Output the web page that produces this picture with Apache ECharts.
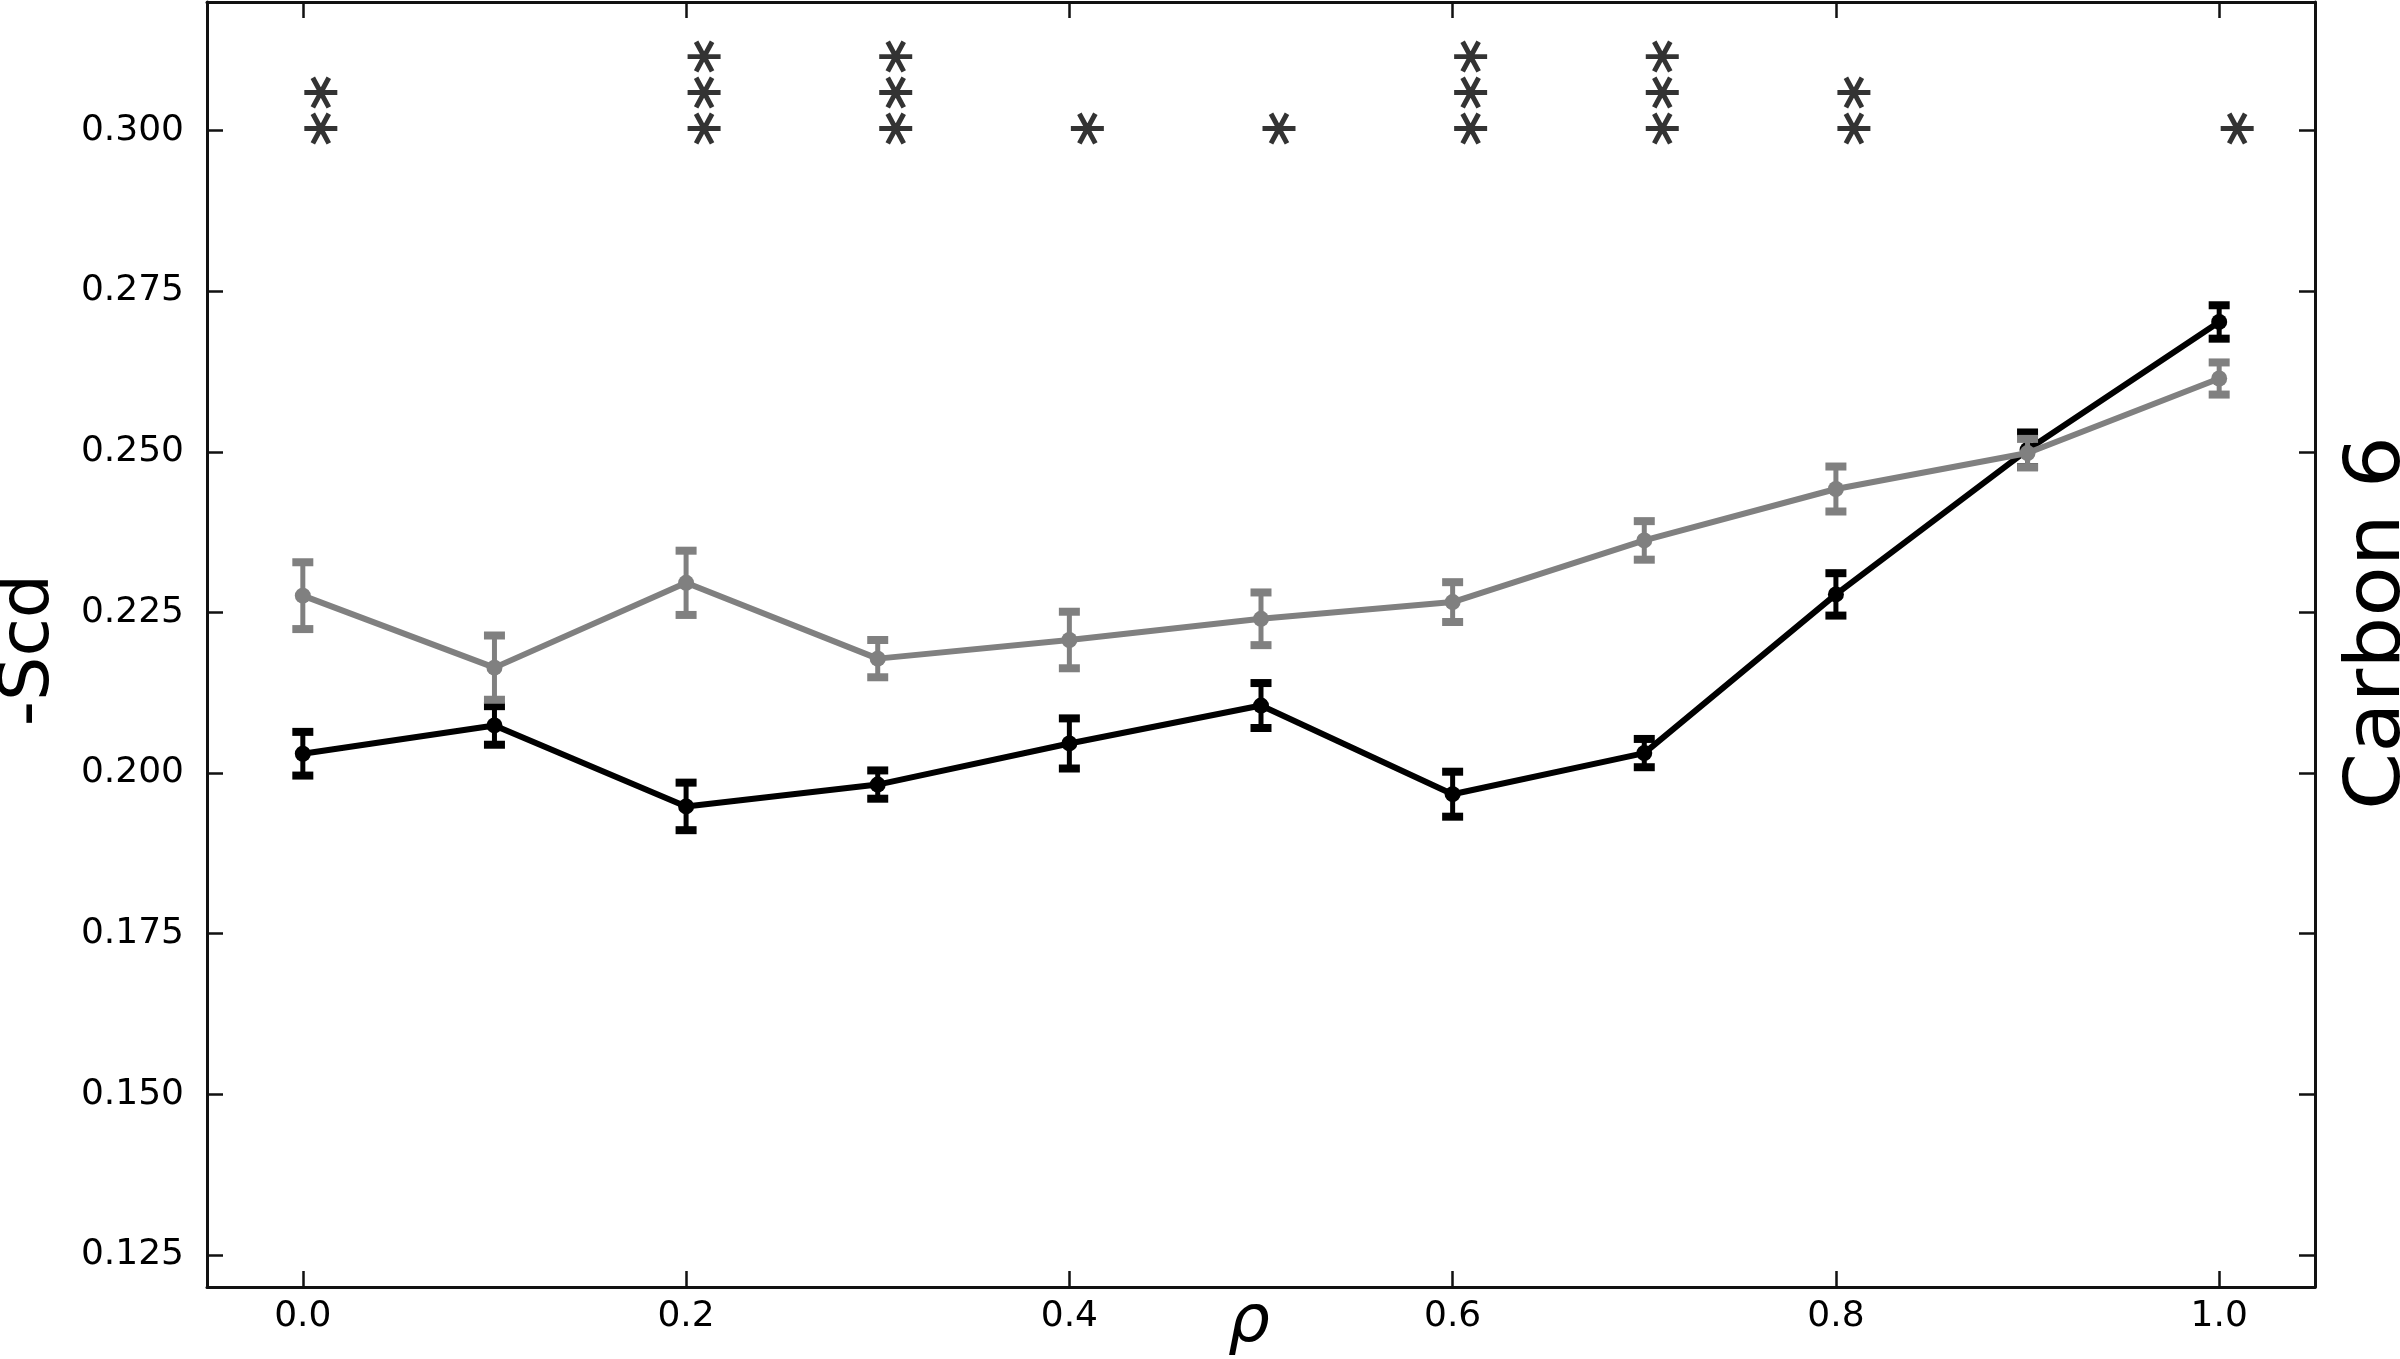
<!DOCTYPE html>
<html>
<head>
<meta charset="utf-8">
<script src="https://cdn.jsdelivr.net/npm/echarts@6/dist/echarts.min.js"></script>
<style>
html,body{margin:0;padding:0;background:#fff;}
#chart{width:2400px;height:1359px;}
</style>
</head>
<body>
<div id="chart"></div>
<script>
// ---- data ----
const rho = [0.0, 0.1, 0.2, 0.3, 0.4, 0.5, 0.6, 0.7, 0.8, 0.9, 1.0];
const blackMean = [0.2030, 0.2074, 0.1948, 0.1982, 0.2046, 0.2105, 0.1967, 0.2031, 0.2278, 0.2503, 0.2702];
const blackErr  = [0.0034, 0.0030, 0.0037, 0.0022, 0.0039, 0.0035, 0.0035, 0.0022, 0.0033, 0.0027, 0.0026];
const greyMean  = [0.2276, 0.2164, 0.2296, 0.2178, 0.2207, 0.2240, 0.2266, 0.2362, 0.2442, 0.2498, 0.2614];
const greyErr   = [0.0052, 0.0050, 0.0050, 0.0029, 0.0044, 0.0041, 0.0031, 0.0030, 0.0035, 0.0022, 0.0025];
const starCounts = [2, 0, 3, 3, 1, 1, 3, 3, 2, 0, 1];
const starLevels = [0.3003, 0.3059, 0.3115];
const xTicks = [0.0, 0.2, 0.4, 0.6, 0.8, 1.0];
const yTicks = [0.125, 0.150, 0.175, 0.200, 0.225, 0.250, 0.275, 0.300];
const yAxisTitle = '-Scd';
const xAxisTitle = 'ρ';
const sideTitle = 'Carbon 6';

// ---- chart ----
const chart = echarts.init(document.getElementById('chart'), null, {renderer: 'canvas'});
const FONT = 'DejaVu Sans';
const frame = {show: true, onZero: false, lineStyle: {color: '#111', width: 3}};
const tick = (vals) => ({show: true, inside: true, length: 16, customValues: vals, lineStyle: {color: '#111', width: 2.5}});

function errRender(color) {
  return function (params, api) {
    const x = api.value(0), lo = api.value(1), hi = api.value(2);
    const pLo = api.coord([x, lo]);
    const pHi = api.coord([x, hi]);
    const cw = 21, ch = 8;
    return {
      type: 'group',
      children: [
        {type: 'line', shape: {x1: pLo[0], y1: pLo[1], x2: pHi[0], y2: pHi[1]}, style: {stroke: color, lineWidth: 5}},
        {type: 'rect', shape: {x: pHi[0] - cw / 2, y: pHi[1] - ch / 2, width: cw, height: ch}, style: {fill: color}},
        {type: 'rect', shape: {x: pLo[0] - cw / 2, y: pLo[1] - ch / 2, width: cw, height: ch}, style: {fill: color}}
      ]
    };
  };
}

const starPath = 'path://M-16.5,-2.5 L16.5,-2.5 L16.5,2.5 L-16.5,2.5 Z ' +
  'M-5.8,-16.2 L10.2,13.8 L5.8,16.2 L-10.2,-13.8 Z ' +
  'M10.2,-13.8 L-5.8,16.2 L-10.2,13.8 L5.8,-16.2 Z';

const starData = [];
rho.forEach((x, i) => {
  for (let k = 0; k < starCounts[i]; k++) starData.push([x, starLevels[k]]);
});

const BLACK = '#000000';
const GREY = '#808080';

chart.setOption({
  animation: false,
  backgroundColor: '#ffffff',
  grid: {left: 207, right: 85, top: 2, bottom: 72, containLabel: false, outerBoundsMode: 'none'},
  xAxis: [
    {
      type: 'value', min: -0.05, max: 1.05, position: 'bottom',
      axisLine: frame, axisTick: tick(xTicks), splitLine: {show: false},
      axisLabel: {customValues: xTicks, formatter: v => v.toFixed(1), fontSize: 36, color: '#000', fontFamily: FONT, margin: 12},
      name: xAxisTitle, nameLocation: 'middle', nameGap: 4, nameMoveOverlap: false,
      nameTextStyle: {fontStyle: 'italic', fontSize: 66, fontFamily: FONT, color: '#000', padding: [0, 24, 0, 0]}
    },
    {
      type: 'value', min: -0.05, max: 1.05, position: 'top',
      axisLine: frame, axisTick: tick(xTicks), splitLine: {show: false},
      axisLabel: {show: false}
    }
  ],
  yAxis: [
    {
      type: 'value', min: 0.12, max: 0.32, position: 'left',
      axisLine: frame, axisTick: tick(yTicks), splitLine: {show: false},
      axisLabel: {customValues: yTicks, formatter: v => v.toFixed(3), fontSize: 36, color: '#000', fontFamily: FONT, margin: 23}
    },
    {
      type: 'value', min: 0.12, max: 0.32, position: 'right',
      axisLine: frame, axisTick: tick(yTicks), splitLine: {show: false},
      axisLabel: {show: false}
    }
  ],
  graphic: [
    {type: 'text', x: 30, y: 650, rotation: Math.PI / 2,
      style: {text: yAxisTitle, font: '70px "DejaVu Sans"', fill: '#000', textAlign: 'center', textVerticalAlign: 'middle'}},
    {type: 'text', x: 2379, y: 623, rotation: Math.PI / 2, scaleX: 1.08,
      style: {text: sideTitle, font: '76px "DejaVu Sans"', fill: '#000', textAlign: 'center', textVerticalAlign: 'middle'}}
  ],
  series: [
    {
      type: 'custom', name: 'black err', renderItem: errRender(BLACK), z: 2,
      encode: {x: 0, y: [1, 2]},
      data: rho.map((x, i) => [x, blackMean[i] - blackErr[i], blackMean[i] + blackErr[i]])
    },
    {
      type: 'line', name: 'black', z: 3,
      data: rho.map((x, i) => [x, blackMean[i]]),
      symbol: 'circle', symbolSize: 16, showSymbol: true,
      lineStyle: {color: BLACK, width: 6}, itemStyle: {color: BLACK}
    },
    {
      type: 'custom', name: 'grey err', renderItem: errRender(GREY), z: 4,
      encode: {x: 0, y: [1, 2]},
      data: rho.map((x, i) => [x, greyMean[i] - greyErr[i], greyMean[i] + greyErr[i]])
    },
    {
      type: 'line', name: 'grey', z: 5,
      data: rho.map((x, i) => [x, greyMean[i]]),
      symbol: 'circle', symbolSize: 16, showSymbol: true,
      lineStyle: {color: GREY, width: 6}, itemStyle: {color: GREY}
    },
    {
      type: 'scatter', name: 'significance', z: 6,
      data: starData,
      symbol: starPath, symbolSize: [33, 32], symbolOffset: [18, 0],
      itemStyle: {color: '#000'}
    }
  ]
});
</script>
</body>
</html>
